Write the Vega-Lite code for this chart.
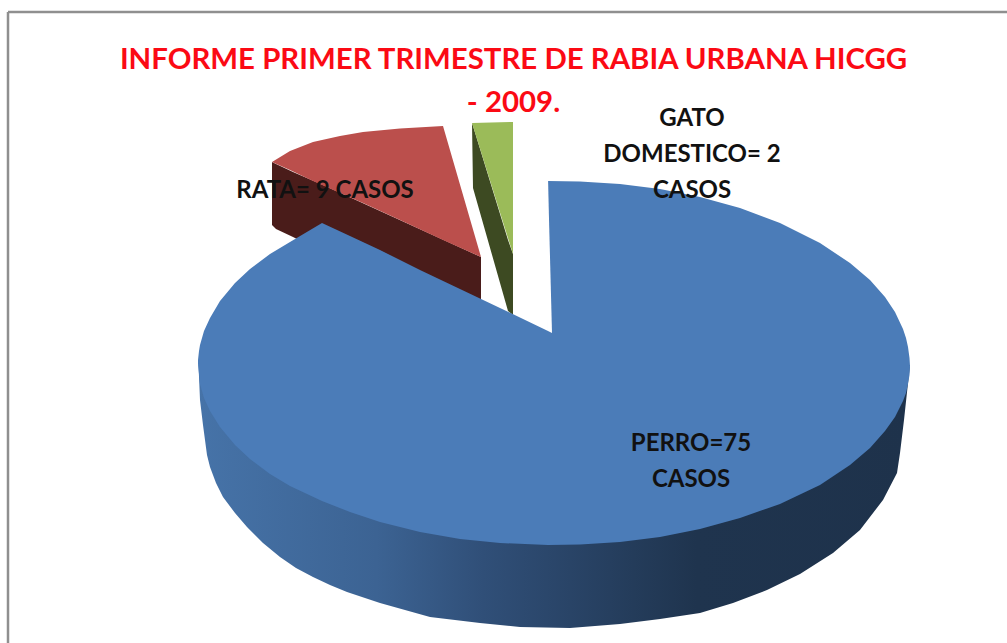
{
"$schema":"https://vega.github.io/schema/vega-lite/v6.json",
"width":1007,"height":643,"padding":0,"autosize":{"type":"none"},
"background":"white",
"view":{"stroke":null},
"title":{"text":["INFORME PRIMER TRIMESTRE DE RABIA URBANA HICGG","- 2009."],"frame":"group","anchor":"middle","dx":10,"dy":132,"offset":0,"font":"Lato","fontSize":29.4,"fontWeight":"bold","color":"#fb0a14","lineHeight":43,"baseline":"middle"},
"datasets":{
"marco":[{"x1":8,"y1":12,"x2":8,"y2":643},{"x1":8,"y1":12,"x2":1007,"y2":12}],
"casos":[
{"animal":"PERRO","casos":75,"etiqueta":"PERRO=75\nCASOS","lx":691,"ly":444},
{"animal":"RATA","casos":9,"etiqueta":"RATA= 9 CASOS","lx":325,"ly":191},
{"animal":"GATO DOMESTICO","casos":2,"etiqueta":"GATO\nDOMESTICO= 2\nCASOS","lx":692,"ly":119}
],
"paredPerro":[
{"x":198.5,"a":365,"b":365},{"x":200,"a":365,"b":400},{"x":203,"a":365,"b":425},{"x":205,"a":365,"b":440},{"x":207,"a":365,"b":455},{"x":210,"a":365,"b":467},{"x":216,"a":365,"b":483},{"x":223,"a":365,"b":497},{"x":235,"a":365,"b":513},{"x":247,"a":365,"b":527},{"x":263,"a":365,"b":543},{"x":280,"a":365,"b":557},{"x":296,"a":365,"b":568},{"x":313,"a":365,"b":577},{"x":330,"a":365,"b":585},{"x":347,"a":365,"b":592},{"x":380,"a":365,"b":603},{"x":430,"a":365,"b":617},{"x":480,"a":365,"b":623},{"x":520,"a":365,"b":627},{"x":570,"a":365,"b":628},{"x":620,"a":365,"b":624},{"x":660,"a":365,"b":619},{"x":700,"a":365,"b":613},{"x":733,"a":365,"b":603},{"x":767,"a":365,"b":590},{"x":800,"a":365,"b":574},{"x":833,"a":365,"b":553},{"x":860,"a":365,"b":530},{"x":883,"a":365,"b":500},{"x":897,"a":365,"b":473},{"x":900,"a":365,"b":453},{"x":904,"a":365,"b":420},{"x":908,"a":365,"b":383},{"x":910,"a":365,"b":365}
],
"caraPerro":[
{"x":198,"a":360,"b":364},{"x":199,"a":351,"b":374},{"x":200,"a":345,"b":384},{"x":204,"a":331,"b":398},{"x":210,"a":318,"b":411},{"x":220,"a":301,"b":427},{"x":235,"a":283,"b":445},{"x":250,"a":269,"b":459},{"x":270,"a":254,"b":474},{"x":290,"a":242,"b":486},{"x":322,"a":223,"b":501},{"x":350,"a":236,"b":512},{"x":380,"a":250,"b":522},{"x":420,"a":270,"b":532},{"x":460,"a":289,"b":539},{"x":500,"a":308,"b":543},{"x":548,"a":331,"b":545},{"x":548.1,"a":181,"b":545},{"x":580,"a":181.5,"b":544.5},{"x":620,"a":184,"b":542},{"x":660,"a":189,"b":537},{"x":700,"a":197,"b":529},{"x":740,"a":208,"b":518},{"x":780,"a":223,"b":504},{"x":820,"a":243,"b":485},{"x":850,"a":263,"b":465},{"x":870,"a":280,"b":448},{"x":885,"a":297,"b":431},{"x":895,"a":312,"b":417},{"x":903,"a":329,"b":401},{"x":906,"a":338,"b":393},{"x":908,"a":347,"b":384},{"x":909.5,"a":358,"b":375},{"x":910,"a":366,"b":367}
],
"muesca":[{"x":548,"a":181,"b":331},{"x":552,"a":333,"b":333}],
"paredRata":[
{"x":272,"a":162,"b":225},{"x":276,"a":164,"b":229},{"x":293,"a":172,"b":237},{"x":323,"a":185,"b":252},{"x":481,"a":257,"b":305}
],
"caraRata":[
{"x":272,"a":162,"b":162},{"x":290,"a":151,"b":170},{"x":313,"a":142,"b":181},{"x":340,"a":136,"b":193},{"x":363,"a":132,"b":203},{"x":400,"a":128.5,"b":220},{"x":443,"a":126,"b":240},{"x":481,"a":257,"b":257}
],
"paredGato":[
{"x":472,"a":123,"b":123},{"x":473,"a":126,"b":188},{"x":508,"a":240,"b":311},{"x":513,"a":254,"b":315}
],
"caraGato":[
{"x":472,"a":123,"b":123},{"x":513,"a":122,"b":254}
]
},
"encoding":{},
"layer":[
{"data":{"name":"marco"},"mark":{"type":"rule","color":"#8f8f8f","strokeWidth":2.5},"encoding":{
"x":{"field":"x1","type":"quantitative","scale":{"domain":[0,1007],"nice":false,"zero":false},"axis":null},
"y":{"field":"y1","type":"quantitative","scale":{"domain":[643,0],"nice":false,"zero":false},"axis":null},
"x2":{"field":"x2"},"y2":{"field":"y2"}}},
{"data":{"name":"paredPerro"},"mark":{"type":"area","color":{"gradient":"linear","x1":0,"y1":0,"x2":1,"y2":0,"stops":[{"offset":0,"color":"#4673a8"},{"offset":0.25,"color":"#3c6393"},{"offset":0.4,"color":"#304f78"},{"offset":0.7,"color":"#1f344e"},{"offset":1,"color":"#1e324b"}]}},"encoding":{"x":{"field":"x","type":"quantitative","axis":null},"y":{"field":"a","type":"quantitative","axis":null},"y2":{"field":"b"}}},
{"data":{"name":"paredRata"},"mark":{"type":"area","color":"#4a1c1a"},"encoding":{"x":{"field":"x","type":"quantitative"},"y":{"field":"a","type":"quantitative"},"y2":{"field":"b"}}},
{"data":{"name":"caraRata"},"mark":{"type":"area","color":"#bb4f4c"},"encoding":{"x":{"field":"x","type":"quantitative"},"y":{"field":"a","type":"quantitative"},"y2":{"field":"b"}}},
{"data":{"name":"paredGato"},"mark":{"type":"area","color":"#3d4a22"},"encoding":{"x":{"field":"x","type":"quantitative"},"y":{"field":"a","type":"quantitative"},"y2":{"field":"b"}}},
{"data":{"name":"caraGato"},"mark":{"type":"area","color":"#9bbb59"},"encoding":{"x":{"field":"x","type":"quantitative"},"y":{"field":"a","type":"quantitative"},"y2":{"field":"b"}}},
{"data":{"name":"caraPerro"},"mark":{"type":"area","color":"#4b7cb8"},"encoding":{"x":{"field":"x","type":"quantitative"},"y":{"field":"a","type":"quantitative"},"y2":{"field":"b"}}},
{"data":{"name":"muesca"},"mark":{"type":"area","color":"#ffffff"},"encoding":{"x":{"field":"x","type":"quantitative"},"y":{"field":"a","type":"quantitative"},"y2":{"field":"b"}}},
{"data":{"name":"casos"},"mark":{"type":"text","font":"Lato","fontSize":24,"fontWeight":"bold","color":"#111111","lineBreak":"\n","lineHeight":36,"align":"center","baseline":"middle"},"encoding":{"x":{"field":"lx","type":"quantitative"},"y":{"field":"ly","type":"quantitative"},"text":{"field":"etiqueta","type":"nominal"}}}
]
}
